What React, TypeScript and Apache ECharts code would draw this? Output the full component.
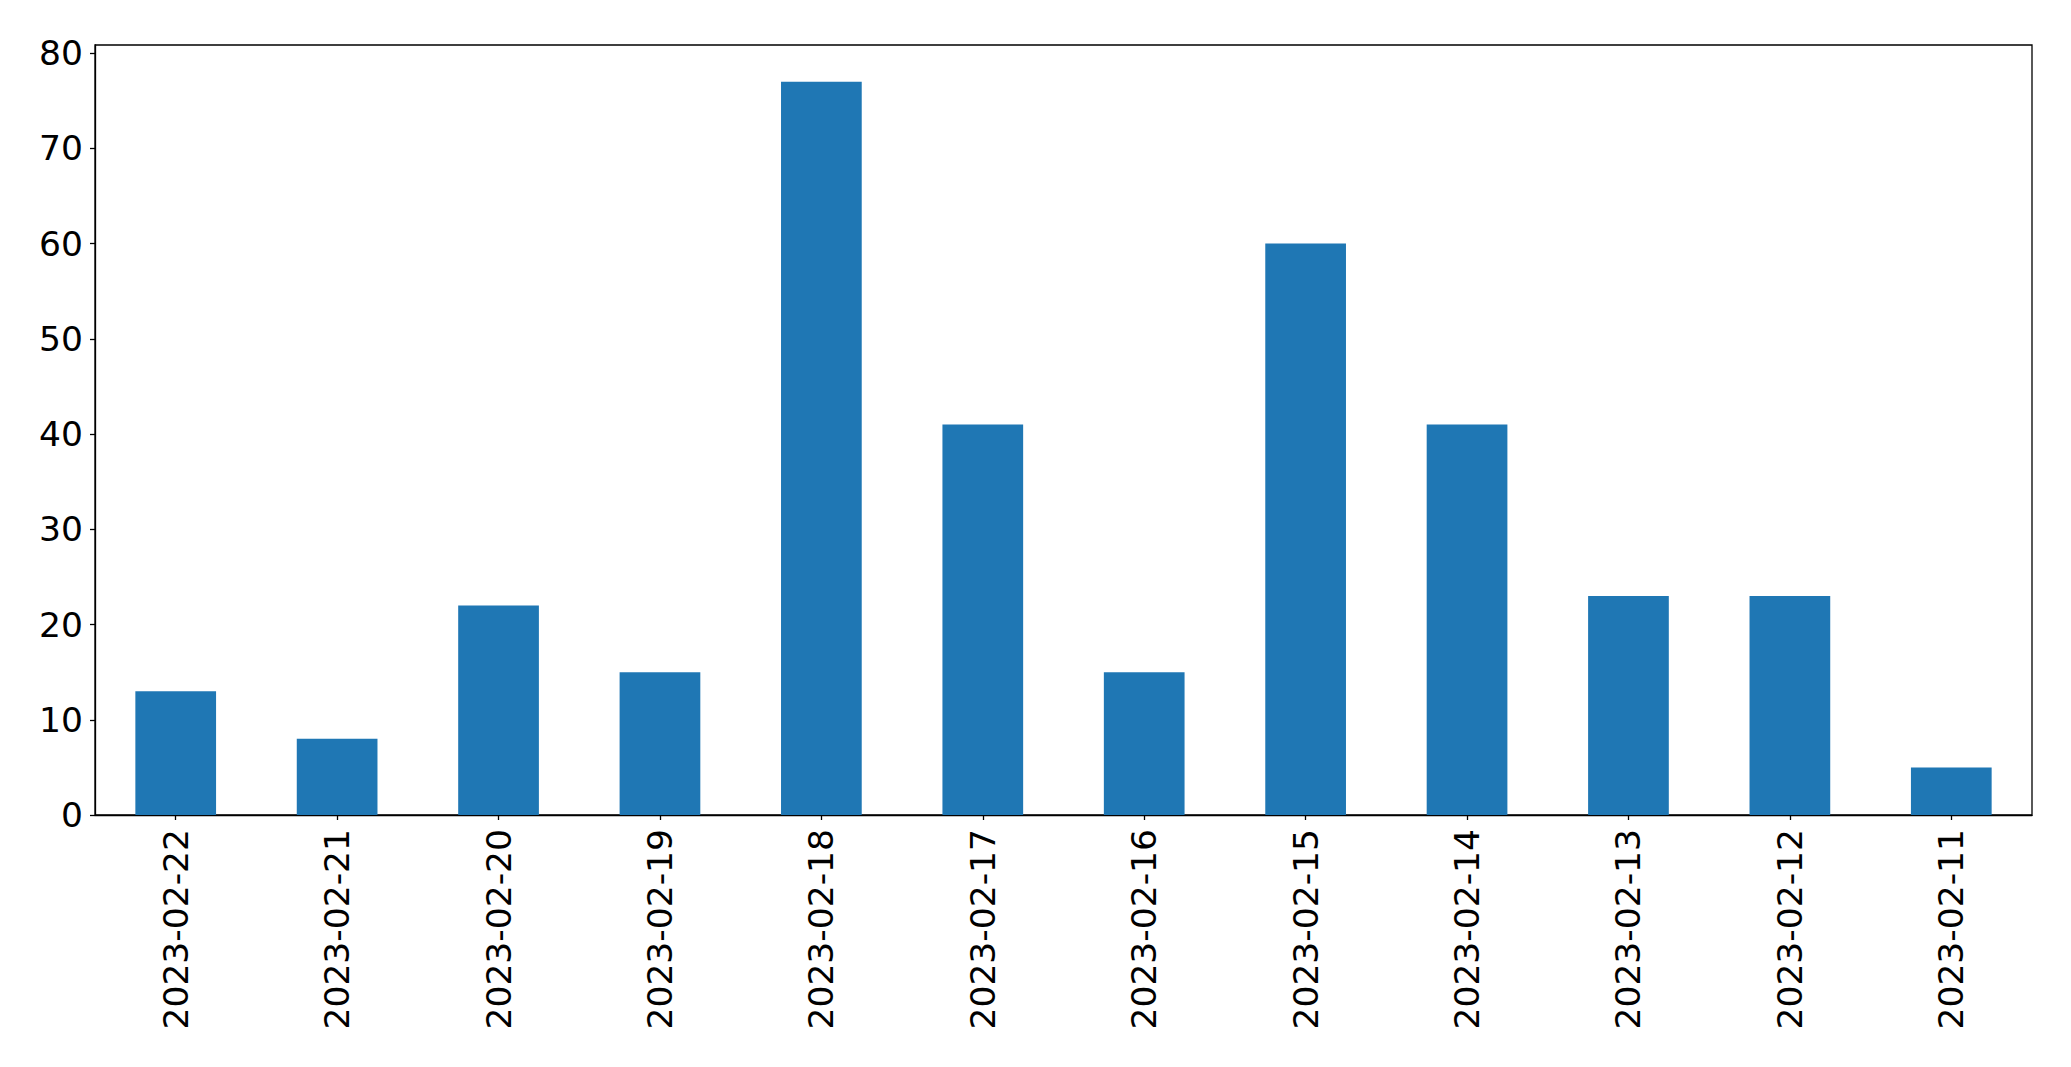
import React, { useEffect, useRef } from "react";
import * as echarts from "echarts";

const categories = [
  "2023-02-22", "2023-02-21", "2023-02-20", "2023-02-19", "2023-02-18", "2023-02-17",
  "2023-02-16", "2023-02-15", "2023-02-14", "2023-02-13", "2023-02-12", "2023-02-11",
];
const values = [13, 8, 22, 15, 77, 41, 15, 60, 41, 23, 23, 5];
const yMax = 80.85;
const yInterval = 10;

export default function App() {
  const ref = useRef<HTMLDivElement>(null);
  useEffect(() => {
    if (!ref.current) return;
    const chart = echarts.init(ref.current, undefined, { renderer: "svg" });
    const font = "DejaVu Sans";
    chart.setOption({
      animation: false,
      backgroundColor: "#ffffff",
      grid: {
        left: 95,
        right: 39,
        top: 45,
        bottom: 252,
        show: true,
        borderColor: "#000000",
        borderWidth: 1.3,
        backgroundColor: "transparent",
      },
      xAxis: {
        type: "category",
        data: categories,
        axisLine: { show: true, lineStyle: { color: "#000", width: 1.3 } },
        axisTick: { show: true, alignWithLabel: true, length: 5, lineStyle: { color: "#000", width: 1.3 } },
        axisLabel: {
          rotate: 90,
          interval: 0,
          margin: 14,
          color: "#000",
          fontFamily: font,
          fontSize: 34.5,
        },
        splitLine: { show: false },
      },
      yAxis: {
        type: "value",
        min: 0,
        max: yMax,
        interval: yInterval,
        axisLine: { show: true, lineStyle: { color: "#000", width: 1.3 } },
        axisTick: { show: true, length: 5, lineStyle: { color: "#000", width: 1.3 } },
        axisLabel: {
          margin: 12,
          color: "#000",
          fontFamily: font,
          fontSize: 34.5,
          showMaxLabel: false,
          formatter: (v: number) => (Math.abs(v % yInterval) < 1e-9 ? String(v) : ""),
        },
        splitLine: { show: false },
      },
      series: [
        {
          type: "bar",
          data: values,
          barWidth: "50%",
          itemStyle: { color: "#1f77b4" },
        },
      ],
    });
    return () => chart.dispose();
  }, []);
  return (
    <div
      ref={ref}
      style={{ position: "absolute", left: 0, top: 0, width: 2071, height: 1067 }}
    />
  );
}
